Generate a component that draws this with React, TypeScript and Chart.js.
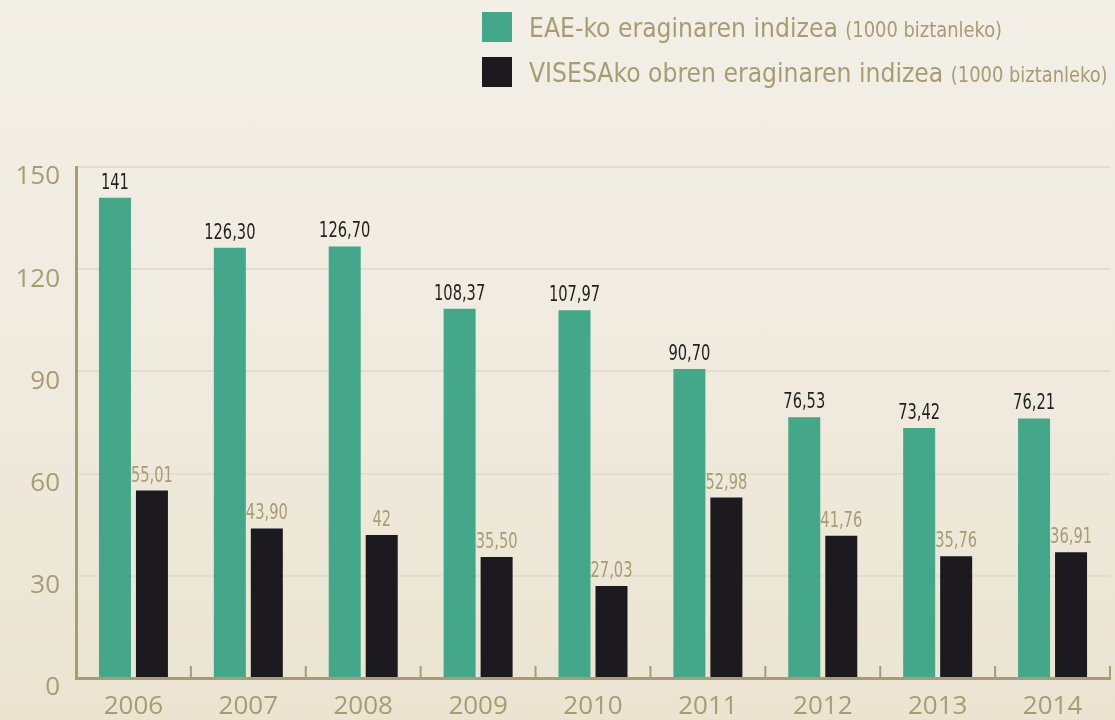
import React, { useEffect, useRef } from "react";
import { Chart, registerables } from "chart.js";

Chart.register(...registerables);

const years = ["2006", "2007", "2008", "2009", "2010", "2011", "2012", "2013", "2014"];
const eaeValues = [141, 126.3, 126.7, 108.37, 107.97, 90.7, 76.53, 73.42, 76.21];
const visesaValues = [55.01, 43.9, 42, 35.5, 27.03, 52.98, 41.76, 35.76, 36.91];
const eaeLabels = ["141", "126,30", "126,70", "108,37", "107,97", "90,70", "76,53", "73,42", "76,21"];
const visesaLabels = ["55,01", "43,90", "42", "35,50", "27,03", "52,98", "41,76", "35,76", "36,91"];
const yTicks = [0, 30, 60, 90, 120, 150];
const legendMain = ["EAE-ko eraginaren indizea", "VISESAko obren eraginaren indizea"];
const legendUnit = "(1000 biztanleko)";

const GREEN = "#44a78a";
const BLACK = "#1c1a1f";
const TAN = "#a89c72";
const NARROW = '"DejaVu Sans Condensed", "DejaVu Sans", sans-serif';
const AXISFONT = '"Open Sans", sans-serif';

const extrasPlugin = {
  id: "extras",
  afterDatasetsDraw(chart: any) {
    const ctx = chart.ctx;
    const labelSets = [eaeLabels, visesaLabels];
    const colors = ["#231f20", TAN];
    const sx = 0.74;
    chart.data.datasets.forEach((_ds: any, di: number) => {
      const meta = chart.getDatasetMeta(di);
      meta.data.forEach((el: any, i: number) => {
        ctx.save();
        ctx.translate(el.x, el.y - 9);
        ctx.scale(sx, 1);
        ctx.font = `22px ${NARROW}`;
        ctx.textAlign = "center";
        ctx.textBaseline = "alphabetic";
        ctx.fillStyle = colors[di];
        ctx.fillText(labelSets[di][i], 0, 0);
        ctx.restore();
      });
    });
  },
  afterDraw(chart: any) {
    const ctx = chart.ctx;
    const xs = chart.scales.x;
    const area = chart.chartArea;
    const n = years.length;
    ctx.save();
    ctx.strokeStyle = TAN;
    ctx.lineWidth = 2;
    for (let i = 0; i <= n; i++) {
      const x = xs.left + (i * (xs.right - xs.left)) / n;
      ctx.beginPath();
      ctx.moveTo(x, area.bottom - 12);
      ctx.lineTo(x, area.bottom);
      ctx.stroke();
    }
    ctx.restore();
  },
};

export default function App() {
  const ref = useRef<HTMLCanvasElement | null>(null);

  useEffect(() => {
    if (!ref.current) return;
    const chart = new Chart(ref.current, {
      type: "bar",
      data: {
        labels: years,
        datasets: [
          {
            label: legendMain[0],
            data: eaeValues,
            backgroundColor: GREEN,
            categoryPercentage: 0.644,
            barPercentage: 0.865,
          },
          {
            label: legendMain[1],
            data: visesaValues,
            backgroundColor: BLACK,
            categoryPercentage: 0.644,
            barPercentage: 0.865,
          },
        ],
      },
      options: {
        responsive: false,
        animation: false,
        layout: { padding: { top: 167, right: 5, left: 0, bottom: 0 } },
        plugins: {
          legend: { display: false },
          tooltip: { enabled: false },
        },
        scales: {
          x: {
            offset: true,
            grid: { display: false },
            border: { display: true, color: TAN, width: 3 },
            ticks: {
              color: TAN,
              font: { family: AXISFONT, size: 26 },
              padding: 5,
              maxRotation: 0,
            },
            afterFit: (s: any) => {
              s.height = 42;
            },
          },
          y: {
            min: 0,
            max: 150,
            afterBuildTicks: (s: any) => {
              s.ticks = yTicks.map((v) => ({ value: v }));
            },
            grid: { color: "#e2ddcf", lineWidth: 2, drawTicks: false },
            border: { display: true, color: TAN, width: 3 },
            ticks: {
              color: TAN,
              font: { family: AXISFONT, size: 26 },
              padding: 16,
              labelOffset: 10,
            },
            afterFit: (s: any) => {
              s.width = 76;
            },
          },
        },
      },
      plugins: [extrasPlugin],
    } as any);
    return () => chart.destroy();
  }, []);

  const legendRow = (top: number, color: string, text: string) => (
    <div
      style={{
        position: "absolute",
        left: 482,
        top,
        height: 30,
        display: "flex",
        alignItems: "center",
        whiteSpace: "nowrap",
      }}
    >
      <div style={{ width: 30, height: 30, background: color, marginRight: 17, flexShrink: 0 }} />
      <span
        style={{
          fontFamily: NARROW,
          fontSize: 27,
          color: TAN,
          display: "inline-block",
          transform: "scaleX(0.97)",
          transformOrigin: "left center",
        }}
      >
        {text}{" "}
        <span style={{ fontSize: 20.5 }}>{legendUnit}</span>
      </span>
    </div>
  );

  return (
    <div
      style={{
        position: "fixed",
        left: 0,
        top: 0,
        width: 1115,
        height: 720,
        background: "linear-gradient(180deg, #f2efe7 0%, #f0ece1 40%, #ebe4d1 100%)",
        overflow: "hidden",
      }}
    >
      <canvas ref={ref} width={1115} height={720} style={{ position: "absolute", left: 0, top: 0 }} />
      {legendRow(12, GREEN, legendMain[0])}
      {legendRow(57, BLACK, legendMain[1])}
    </div>
  );
}
